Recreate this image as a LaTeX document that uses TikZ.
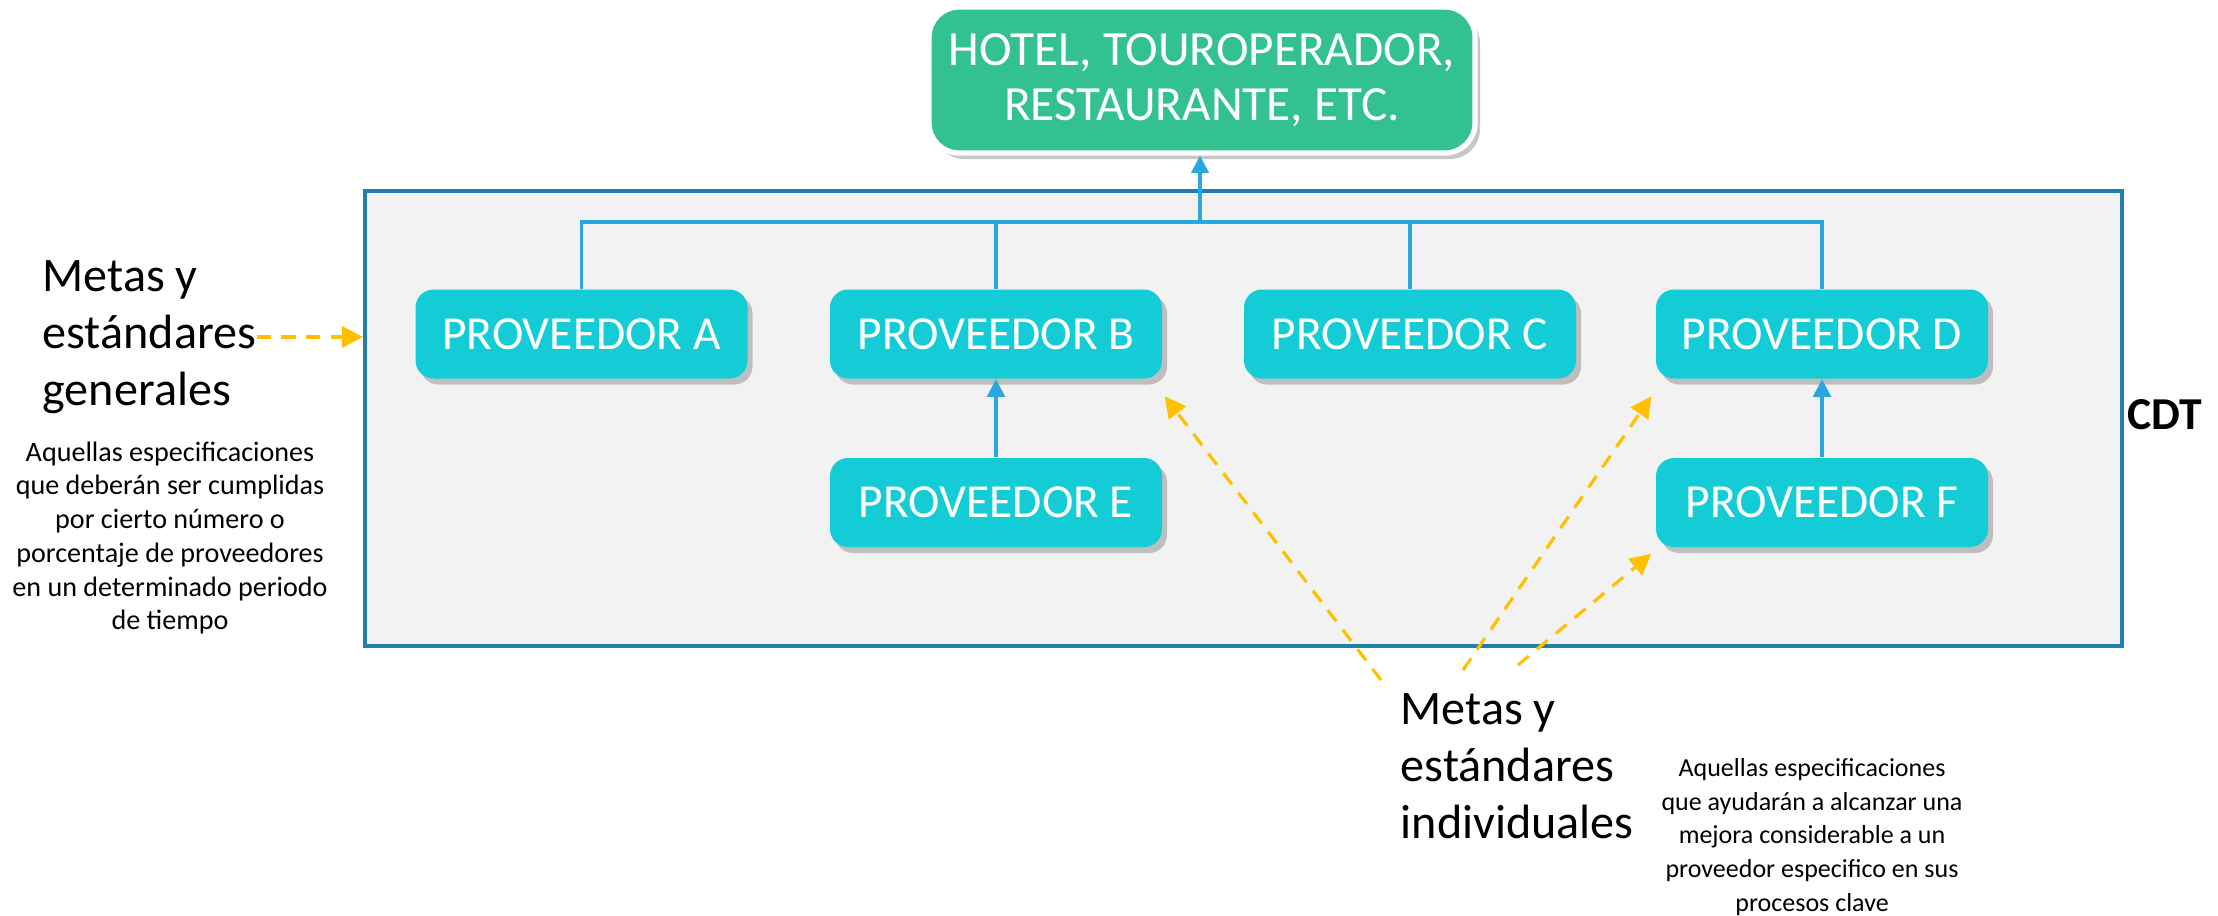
\documentclass[tikz,border=0pt]{standalone}
\usepackage{fontspec}
\setmainfont{Carlito}
\usepackage{xcolor}
\usetikzlibrary{arrows.meta,shadows}

\definecolor{provcyan}{HTML}{14CCD6}
\definecolor{hotelgreen}{HTML}{33C191}
\definecolor{linkblue}{HTML}{29A8E0}
\definecolor{frameblue}{HTML}{1F80B0}
\definecolor{framegray}{HTML}{F2F2F2}
\definecolor{goalyellow}{HTML}{FFC000}

\begin{document}
\begin{tikzpicture}[
    prov/.style={fill=provcyan, rounded corners=0.18cm, minimum width=3.32cm, minimum height=0.89cm,
        text=white, font=\fontsize{13.5}{15}\selectfont,
        drop shadow={shadow xshift=0.05cm, shadow yshift=-0.06cm, opacity=0.45}},
    link/.style={linkblue, line width=0.9pt},
    goal/.style={goalyellow, line width=0.9pt, dash pattern=on 4pt off 3pt, -{Triangle[length=6pt,width=6pt]}},
    bigtext/.style={inner sep=0pt, align=left, font=\fontsize{13.7}{16.3}\selectfont},
    smalltext/.style={inner sep=0pt, align=center, font=\fontsize{7.4}{9.6}\selectfont},
]
\useasboundingbox (0,0) rectangle (22.18,-9.15);

% marco del CDT
\node[draw=frameblue, line width=1.1pt, fill=framegray, minimum width=17.57cm, minimum height=4.55cm] (cdt) at (12.435,-4.185) {};
\node[font=\fontsize{13}{15}\selectfont\bfseries] (cdtlabel) at (21.65,-4.15) {CDT};

% cliente
\node[draw=white, line width=1.5pt, fill=hotelgreen, rounded corners=0.3cm, minimum width=5.46cm, minimum height=1.46cm,
    text=white, align=center, font=\fontsize{14}{15.6}\selectfont,
    drop shadow={shadow xshift=0.05cm, shadow yshift=-0.06cm, opacity=0.45}] (hotel) at (12.02,-0.80)
    {HOTEL, TOUROPERADOR,\\RESTAURANTE, ETC.};

% proveedores
\node[prov] (A) at (5.815,-3.34) {PROVEEDOR A};
\node[prov] (B) at (9.96,-3.34) {PROVEEDOR B};
\node[prov] (C) at (14.10,-3.34) {PROVEEDOR C};
\node[prov] (D) at (18.22,-3.34) {PROVEEDOR D};
\node[prov] (E) at (9.96,-5.025) {PROVEEDOR E};
\node[prov] (F) at (18.22,-5.025) {PROVEEDOR F};

% conexiones
\coordinate (bus) at (12.00,-2.22);
\draw[link] (A.north) |- (bus) -| (D.north);
\draw[link] (B.north) -- (B.north |- bus);
\draw[link] (C.north) -- (C.north |- bus);
\draw[link,-{Triangle[length=5pt,width=5pt]}] (bus) -- (bus |- hotel.south);
\draw[link,-{Triangle[length=5pt,width=5pt]}] (E.north) -- (B.south);
\draw[link,-{Triangle[length=5pt,width=5pt]}] (F.north) -- (D.south);

% metas generales
\node[bigtext, anchor=west] (gen) at (0.42,-3.37) {Metas y\\estándares\\generales};
\node[smalltext, font=\fontsize{8}{9.6}\selectfont] (gendesc) at (1.70,-5.38) {Aquellas especificaciones\\que deberán ser cumplidas\\por cierto número o\\porcentaje de proveedores\\en un determinado periodo\\de tiempo};
\draw[goal] (gen.east) -- (gen.east -| cdt.west);

% metas individuales
\node[bigtext, anchor=west] (ind) at (14.00,-7.66) {Metas y\\estándares\\individuales};
\node[smalltext] (inddesc) at (18.12,-8.37) {Aquellas especificaciones\\que ayudarán a alcanzar una\\mejora considerable a un\\proveedor especifico en sus\\procesos clave};
\coordinate (gB) at (13.81,-6.80);
\coordinate (gD) at (14.63,-6.70);
\coordinate (gF) at (15.18,-6.65);
\draw[goal] (gB) -- ([shift={(0.02,-0.17)}]B.south east);
\draw[goal] (gD) -- ([shift={(-0.04,-0.17)}]D.south west);
\draw[goal] (gF) -- ([shift={(-0.04,-0.06)}]F.south west);
\end{tikzpicture}
\end{document}
